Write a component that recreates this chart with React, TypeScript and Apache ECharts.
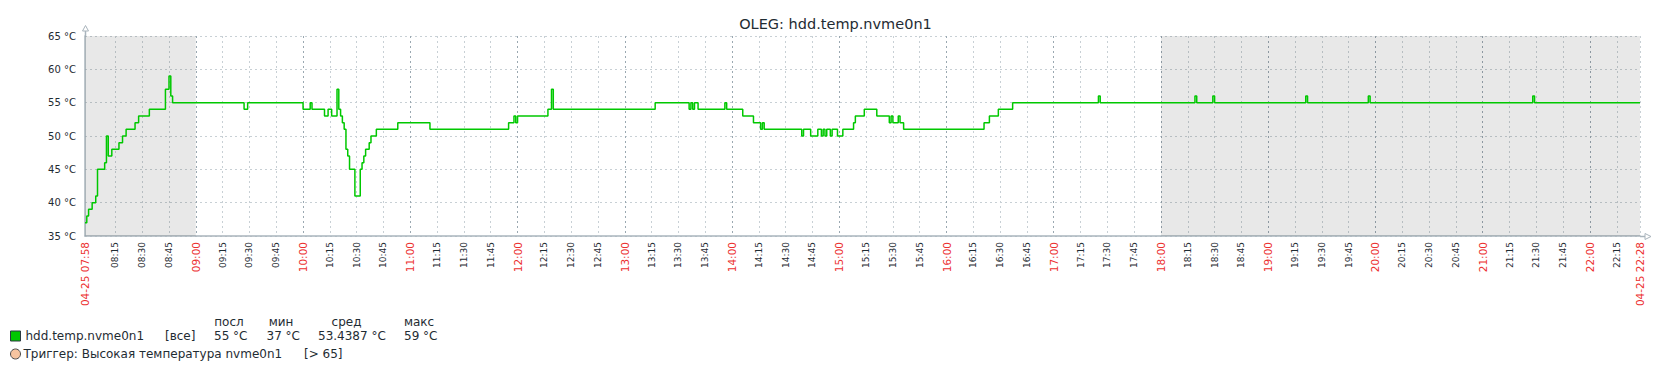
import React, { useEffect, useRef } from "react";
import * as echarts from "echarts";

// ---- data ----
const TITLE = "OLEG: hdd.temp.nvme0n1";
const START_TIME = "07:58";
const END_TIME = "22:28";
const DATE_LABEL = "04-25";
const WORK_START = "09:00";
const WORK_END = "18:00";

// time at which the temperature changes, and the new value (°C)
const changeTimes = [
  "07:58", "07:59", "08:00", "08:02", "08:04", "08:05", "08:09", "08:10", "08:11", "08:13",
  "08:17", "08:19", "08:21", "08:26", "08:28", "08:34", "08:43", "08:45", "08:46", "08:47",
  "09:27", "09:29", "10:00", "10:04", "10:05", "10:12", "10:14", "10:16", "10:19", "10:20",
  "10:21", "10:22", "10:23", "10:24", "10:25", "10:26", "10:29", "10:32", "10:33", "10:34",
  "10:35", "10:37", "10:38", "10:41", "10:53", "11:11", "11:55", "11:58", "11:59", "12:00",
  "12:17", "12:19", "12:20", "13:17", "13:36", "13:37", "13:38", "13:39", "13:41", "13:56",
  "13:57", "14:06", "14:12", "14:16", "14:17", "14:18", "14:39", "14:40", "14:44", "14:48",
  "14:50", "14:51", "14:52", "14:53", "14:55", "14:56", "14:59", "15:02", "15:08", "15:09",
  "15:14", "15:21", "15:28", "15:29", "15:30", "15:33", "15:34", "15:36", "16:21", "16:24",
  "16:29", "16:37", "17:25", "17:26", "18:19", "18:20", "18:29", "18:30", "19:21", "19:22",
  "19:56", "19:57", "21:28", "21:29", "22:28",
];
const changeValues = [
  37, 38, 39, 40, 41, 45, 46, 50, 47, 48,
  49, 50, 51, 52, 53, 54, 57, 59, 56, 55,
  54, 55, 54, 55, 54, 53, 54, 53, 57, 54,
  53, 52, 51, 48, 47, 45, 41, 45, 46, 47,
  48, 49, 50, 51, 52, 51, 52, 53, 52, 53,
  54, 57, 54, 55, 54, 55, 54, 55, 54, 55,
  54, 53, 52, 51, 52, 51, 50, 51, 50, 51,
  50, 51, 50, 51, 50, 51, 50, 51, 52, 53,
  54, 53, 52, 53, 52, 53, 52, 51, 52, 53,
  54, 55, 56, 55, 56, 55, 56, 55, 56, 55,
  56, 55, 56, 55, 55,
];

const Y_MIN = 35;
const Y_MAX = 65;
const Y_STEP = 5;
const UNIT = "°C";
const TICK_STEP_MIN = 15;

const legendHeaders = ["посл", "мин", "сред", "макс"];
const legendItem = "hdd.temp.nvme0n1";
const legendFunc = "[все]";
const legendValues = ["55 °C", "37 °C", "53.4387 °C", "59 °C"];
const triggerText = "Триггер: Высокая температура nvme0n1";
const triggerCond = "[> 65]";

// ---- helpers ----
const toMin = (t: string) => {
  const [h, m] = t.split(":").map(Number);
  return h * 60 + m;
};
const fmt = (v: number) => {
  const h = Math.floor(v / 60);
  const m = v % 60;
  return String(h).padStart(2, "0") + ":" + String(m).padStart(2, "0");
};

const FONT = "DejaVu Sans";
const TEXT = "#1f2c33";
const RED = "#ec3030";
const AXIS = "#a9b4bc";

export default function App() {
  const ref = useRef<HTMLDivElement>(null);
  useEffect(() => {
    if (!ref.current) return;
    const chart = echarts.init(ref.current, undefined, { renderer: "svg" });
    const xMin = toMin(START_TIME);
    const xMax = toMin(END_TIME);
    const quarter: number[] = [];
    const hours: number[] = [];
    const first = Math.ceil((xMin + 1) / TICK_STEP_MIN) * TICK_STEP_MIN;
    for (let v = first; v < xMax; v += TICK_STEP_MIN) {
      if (v - xMin < 10) continue;
      if (v % 60 === 0) hours.push(v);
      else quarter.push(v);
    }
    const labelVals = [xMin, ...[...quarter, ...hours].sort((a, b) => a - b), xMax];
    const data = changeTimes.map((t, i) => [toMin(t), changeValues[i]]);

    const GL = 85;
    const GT = 36;
    const GW = 1555;
    const GH = 200;

    const legendRowY = 336;
    const headerY = 322;
    const trigY = 354;
    const valueX = [214, 266.5, 318, 404];
    const headerX = [229, 281, 346.5, 419];

    const lf = `12px "${FONT}"`;

    chart.setOption({
      animation: false,
      title: {
        text: TITLE,
        left: "center",
        top: 11,
        textStyle: { fontFamily: FONT, fontSize: 14.5, fontWeight: "normal", color: TEXT },
      },
      grid: { left: GL, top: GT, width: GW, height: GH, containLabel: false },
      xAxis: [
        {
          type: "value",
          min: xMin,
          max: xMax,
          axisLine: { show: true, lineStyle: { color: AXIS, width: 1.5 } },
          axisTick: { show: false, customValues: [...quarter, xMax] },
          splitLine: { show: true, lineStyle: { color: "#c8d0d5", type: [2, 3], width: 1 } },
          axisLabel: {
            customValues: labelVals,
            rotate: 90,
            margin: 6,
            fontFamily: FONT,
            formatter: (v: number) => {
              if (v === xMin || v === xMax) return `{r|${DATE_LABEL} ${fmt(v)}}`;
              if (v % 60 === 0) return `{r|${fmt(v)}}`;
              return `{b|${fmt(v)}}`;
            },
            rich: {
              r: { color: RED, fontSize: 10.5, fontFamily: FONT },
              b: { color: TEXT, fontSize: 9, fontFamily: FONT },
            },
          },
        },
        {
          type: "value",
          min: xMin,
          max: xMax,
          position: "bottom",
          axisLine: { show: false },
          axisLabel: { show: false },
          axisTick: { show: false, customValues: hours },
          splitLine: { show: true, lineStyle: { color: "#9aa8b1", type: [2, 3], width: 1 } },
        },
      ],
      yAxis: {
        type: "value",
        min: Y_MIN,
        max: Y_MAX,
        interval: Y_STEP,
        axisLine: { show: true, lineStyle: { color: AXIS, width: 1.5 } },
        axisTick: { show: false },
        splitLine: { show: true, lineStyle: { color: "#c8d0d5", type: [2, 3], width: 1 } },
        axisLabel: {
          formatter: (v: number) => `${v} ${UNIT}`,
          fontFamily: FONT,
          fontSize: 10,
          color: TEXT,
          margin: 9,
        },
      },
      series: [
        {
          type: "line",
          xAxisIndex: 0,
          data,
          step: "end",
          showSymbol: false,
          lineStyle: { color: "#00c800", width: 1.5 },
          z: 5,
          markArea: {
            silent: true,
            itemStyle: { color: "rgba(0,0,0,0.09)" },
            data: [
              [{ xAxis: xMin }, { xAxis: toMin(WORK_START) }],
              [{ xAxis: toMin(WORK_END) }, { xAxis: xMax }],
            ],
          },
        },
      ],
      graphic: [
        // axis arrows
        { type: "line", shape: { x1: GL + 0.5, y1: GT, x2: GL + 0.5, y2: 31 }, style: { stroke: AXIS, lineWidth: 1.5 } },
        { type: "polygon", shape: { points: [[82.5, 31], [85.5, 25.5], [88.5, 31]] }, style: { fill: "#fff", stroke: AXIS, lineWidth: 1 } },
        { type: "line", shape: { x1: GL + GW, y1: GT + GH + 0.5, x2: 1645, y2: GT + GH + 0.5 }, style: { stroke: AXIS, lineWidth: 1.5 } },
        { type: "polygon", shape: { points: [[1645, 233.5], [1651, 236.5], [1645, 239.5]] }, style: { fill: "#fff", stroke: AXIS, lineWidth: 1 } },
        // legend headers
        ...legendHeaders.map((h, i) => ({
          type: "text",
          x: headerX[i],
          y: headerY,
          style: { text: h, font: lf, fill: TEXT, textAlign: "center", textVerticalAlign: "middle" },
        })),
        { type: "rect", shape: { x: 10.5, y: 331, width: 10, height: 10 }, style: { fill: "#00c800", stroke: "#2b3a40", lineWidth: 1 } },
        { type: "text", x: 25.5, y: legendRowY, style: { text: legendItem, font: lf, fill: TEXT, textVerticalAlign: "middle" } },
        { type: "text", x: 165, y: legendRowY, style: { text: legendFunc, font: lf, fill: TEXT, textVerticalAlign: "middle" } },
        ...legendValues.map((v, i) => ({
          type: "text",
          x: valueX[i],
          y: legendRowY,
          style: { text: v, font: lf, fill: TEXT, textVerticalAlign: "middle" },
        })),
        { type: "circle", shape: { cx: 15.5, cy: trigY, r: 5 }, style: { fill: "#f6c4a0", stroke: "#4a4a4a", lineWidth: 1 } },
        { type: "text", x: 23.5, y: trigY, style: { text: triggerText, font: lf, fill: TEXT, textVerticalAlign: "middle" } },
        { type: "text", x: 304, y: trigY, style: { text: triggerCond, font: lf, fill: TEXT, textVerticalAlign: "middle" } },
      ],
    });
    return () => chart.dispose();
  }, []);
  return (
    <div
      ref={ref}
      style={{ position: "fixed", left: 0, top: 0, width: 1671, height: 368, background: "#fff" }}
    />
  );
}
